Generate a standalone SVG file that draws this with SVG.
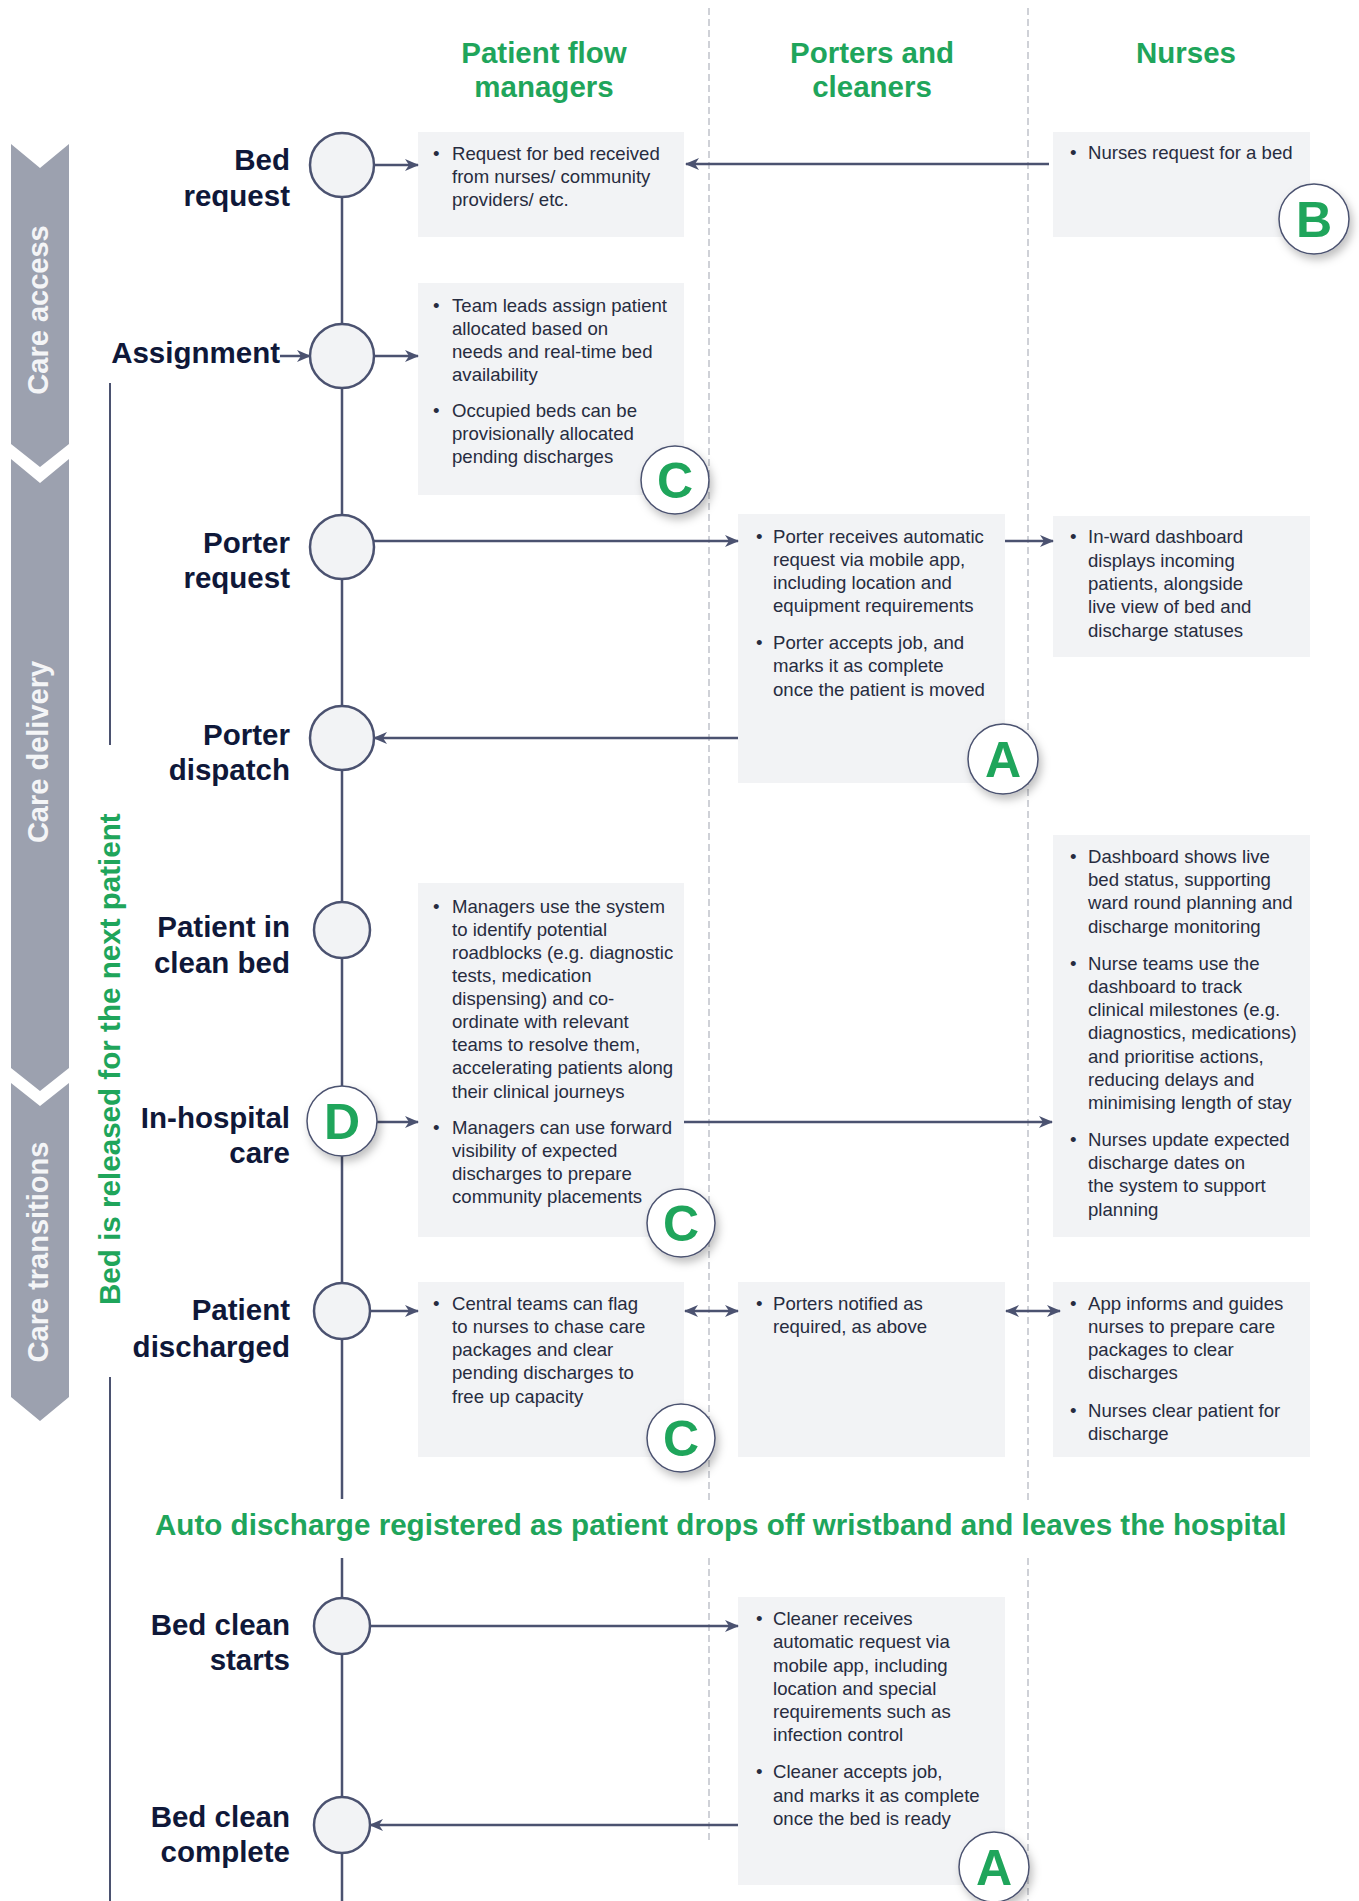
<svg xmlns="http://www.w3.org/2000/svg" width="1359" height="1901" viewBox="0 0 1359 1901">
  <defs>
    <style>
      .lane { stroke: #cfd1d7; stroke-width: 2; stroke-dasharray: 7 4; fill: none; }
      .head { font-family: "Liberation Sans", Arial, sans-serif; font-weight: bold; font-size: 29.5px; fill: #1fa55b; }
      .phase { fill: #9ca1af; }
      .phase-txt { font-family: "Liberation Sans", Arial, sans-serif; font-weight: bold; font-size: 29px; fill: #f4f5f7; text-anchor: middle; }
      .rail { stroke: #4b5270; stroke-width: 2.5; fill: none; }
      .guide { stroke: #4b5270; stroke-width: 2; fill: none; }
      .step { fill: #f2f3f5; stroke: #4b5270; stroke-width: 2.5; }
      .label { font-family: "Liberation Sans", Arial, sans-serif; font-weight: bold; font-size: 29.5px; fill: #0f1839; text-anchor: end; }
      .box { fill: #f2f3f5; }
      .body { font-family: "Liberation Sans", Arial, sans-serif; font-size: 18.6px; fill: #272c40; }
      .badge { fill: #ffffff; stroke: #4b5270; stroke-width: 1.5; filter: url(#soft); }
      .badge-txt { font-family: "Liberation Sans", Arial, sans-serif; font-weight: bold; font-size: 50px; fill: #1fa55b; text-anchor: middle; }
      .conn { stroke: #4b5270; stroke-width: 2.5; fill: none; }
      .green { font-family: "Liberation Sans", Arial, sans-serif; font-weight: bold; font-size: 29.6px; fill: #1fa55b; }
    </style>
    <marker id="arrow" viewBox="0 0 14 12" markerWidth="14" markerHeight="12" refX="13" refY="6" orient="auto-start-reverse" markerUnits="userSpaceOnUse">
      <path d="M0,0 L14,6 L0,12 L4,6 z" fill="#4b5270"/>
    </marker>
    <filter id="soft" x="-40%" y="-40%" width="190%" height="190%">
      <feDropShadow dx="3" dy="5" stdDeviation="4" flood-color="#000000" flood-opacity="0.25"/>
    </filter>
  </defs>

  <rect width="1359" height="1901" fill="#ffffff"/>

  <!-- swimlane separators -->
  <g id="lanes">
    <line class="lane" x1="709" y1="8" x2="709" y2="1500"/>
    <line class="lane" x1="709" y1="1558" x2="709" y2="1843"/>
    <line class="lane" x1="1028" y1="8" x2="1028" y2="1500"/>
    <line class="lane" x1="1028" y1="1558" x2="1028" y2="1901"/>
  </g>

  <!-- column headers -->
  <g id="headers">
    <text class="head" text-anchor="middle" x="544" y="63">Patient flow</text>
    <text class="head" text-anchor="middle" x="544" y="97">managers</text>
    <text class="head" text-anchor="middle" x="872" y="63">Porters and</text>
    <text class="head" text-anchor="middle" x="872" y="97">cleaners</text>
    <text class="head" text-anchor="middle" x="1186" y="63">Nurses</text>
  </g>

  <!-- phase chevrons -->
  <g id="phase-care-access">
    <polygon class="phase" points="11,144 40,168 69,144 69,444 40,467 11,444"/>
    <text class="phase-txt" transform="translate(48,310) rotate(-90)">Care access</text>
  </g>
  <g id="phase-care-delivery">
    <polygon class="phase" points="11,459 40,483 69,459 69,1068 40,1091 11,1068"/>
    <text class="phase-txt" transform="translate(48,752) rotate(-90)">Care delivery</text>
  </g>
  <g id="phase-care-transitions">
    <polygon class="phase" points="11,1083 40,1106 69,1083 69,1397 40,1421 11,1397"/>
    <text class="phase-txt" transform="translate(48,1252) rotate(-90)">Care transitions</text>
  </g>

  <!-- bed release bracket -->
  <g id="bed-release">
    <line class="guide" x1="110" y1="383" x2="110" y2="745"/>
    <line class="guide" x1="110" y1="1377" x2="110" y2="1901"/>
    <text class="green" transform="translate(120,1305) rotate(-90)">Bed is released for the next patient</text>
  </g>

  <!-- timeline rail -->
  <g id="rail">
    <line class="rail" x1="342" y1="165" x2="342" y2="1499"/>
    <line class="rail" x1="342" y1="1558" x2="342" y2="1901"/>
  </g>

  <!-- detail boxes -->
  <g id="box-bed-request">
    <rect class="box" x="418" y="132" width="266" height="105"/>
    <text class="body"><tspan x="433" y="160">•</tspan><tspan x="452" y="160">Request for bed received</tspan><tspan x="452" y="183">from nurses/ community</tspan><tspan x="452" y="206">providers/ etc.</tspan></text>
  </g>
  <g id="box-assignment">
    <rect class="box" x="418" y="283" width="266" height="212"/>
    <text class="body"><tspan x="433" y="312">•</tspan><tspan x="452" y="312">Team leads assign patient</tspan><tspan x="452" y="335">allocated based on</tspan><tspan x="452" y="358">needs and real-time bed</tspan><tspan x="452" y="381">availability</tspan><tspan x="433" y="417">•</tspan><tspan x="452" y="417">Occupied beds can be</tspan><tspan x="452" y="440">provisionally allocated</tspan><tspan x="452" y="463">pending discharges</tspan></text>
  </g>
  <g id="box-managers-care">
    <rect class="box" x="418" y="883" width="266" height="354"/>
    <text class="body"><tspan x="433" y="913">•</tspan><tspan x="452" y="913">Managers use the system</tspan><tspan x="452" y="936">to identify potential</tspan><tspan x="452" y="959">roadblocks (e.g. diagnostic</tspan><tspan x="452" y="982">tests, medication</tspan><tspan x="452" y="1005">dispensing) and co-</tspan><tspan x="452" y="1028">ordinate with relevant</tspan><tspan x="452" y="1051">teams to resolve them,</tspan><tspan x="452" y="1074">accelerating patients along</tspan><tspan x="452" y="1098">their clinical journeys</tspan><tspan x="433" y="1134">•</tspan><tspan x="452" y="1134">Managers can use forward</tspan><tspan x="452" y="1157">visibility of expected</tspan><tspan x="452" y="1180">discharges to prepare</tspan><tspan x="452" y="1203">community placements</tspan></text>
  </g>
  <g id="box-managers-discharge">
    <rect class="box" x="418" y="1282" width="266" height="175"/>
    <text class="body"><tspan x="433" y="1310">•</tspan><tspan x="452" y="1310">Central teams can flag</tspan><tspan x="452" y="1333">to nurses to chase care</tspan><tspan x="452" y="1356">packages and clear</tspan><tspan x="452" y="1379">pending discharges to</tspan><tspan x="452" y="1403">free up capacity</tspan></text>
  </g>
  <g id="box-porter-request">
    <rect class="box" x="738" y="514" width="267" height="269"/>
    <text class="body"><tspan x="756" y="543">•</tspan><tspan x="773" y="543">Porter receives automatic</tspan><tspan x="773" y="566">request via mobile app,</tspan><tspan x="773" y="589">including location and</tspan><tspan x="773" y="612">equipment requirements</tspan><tspan x="756" y="649">•</tspan><tspan x="773" y="649">Porter accepts job, and</tspan><tspan x="773" y="672">marks it as complete</tspan><tspan x="773" y="696">once the patient is moved</tspan></text>
  </g>
  <g id="box-porter-discharge">
    <rect class="box" x="738" y="1282" width="267" height="175"/>
    <text class="body"><tspan x="756" y="1310">•</tspan><tspan x="773" y="1310">Porters notified as</tspan><tspan x="773" y="1333">required, as above</tspan></text>
  </g>
  <g id="box-cleaner">
    <rect class="box" x="738" y="1597" width="267" height="288"/>
    <text class="body"><tspan x="756" y="1625">•</tspan><tspan x="773" y="1625">Cleaner receives</tspan><tspan x="773" y="1648">automatic request via</tspan><tspan x="773" y="1672">mobile app, including</tspan><tspan x="773" y="1695">location and special</tspan><tspan x="773" y="1718">requirements such as</tspan><tspan x="773" y="1741">infection control</tspan><tspan x="756" y="1778">•</tspan><tspan x="773" y="1778">Cleaner accepts job,</tspan><tspan x="773" y="1802">and marks it as complete</tspan><tspan x="773" y="1825">once the bed is ready</tspan></text>
  </g>
  <g id="box-nurse-request">
    <rect class="box" x="1053" y="132" width="257" height="105"/>
    <text class="body"><tspan x="1070" y="159">•</tspan><tspan x="1088" y="159">Nurses request for a bed</tspan></text>
  </g>
  <g id="box-nurse-dashboard">
    <rect class="box" x="1053" y="516" width="257" height="141"/>
    <text class="body"><tspan x="1070" y="543">•</tspan><tspan x="1088" y="543">In-ward dashboard</tspan><tspan x="1088" y="567">displays incoming</tspan><tspan x="1088" y="590">patients, alongside</tspan><tspan x="1088" y="613">live view of bed and</tspan><tspan x="1088" y="637">discharge statuses</tspan></text>
  </g>
  <g id="box-nurse-care">
    <rect class="box" x="1053" y="835" width="257" height="402"/>
    <text class="body"><tspan x="1070" y="863">•</tspan><tspan x="1088" y="863">Dashboard shows live</tspan><tspan x="1088" y="886">bed status, supporting</tspan><tspan x="1088" y="909">ward round planning and</tspan><tspan x="1088" y="933">discharge monitoring</tspan><tspan x="1070" y="970">•</tspan><tspan x="1088" y="970">Nurse teams use the</tspan><tspan x="1088" y="993">dashboard to track</tspan><tspan x="1088" y="1016">clinical milestones (e.g.</tspan><tspan x="1088" y="1039">diagnostics, medications)</tspan><tspan x="1088" y="1063">and prioritise actions,</tspan><tspan x="1088" y="1086">reducing delays and</tspan><tspan x="1088" y="1109">minimising length of stay</tspan><tspan x="1070" y="1146">•</tspan><tspan x="1088" y="1146">Nurses update expected</tspan><tspan x="1088" y="1169">discharge dates on</tspan><tspan x="1088" y="1192">the system to support</tspan><tspan x="1088" y="1216">planning</tspan></text>
  </g>
  <g id="box-nurse-discharge">
    <rect class="box" x="1053" y="1282" width="257" height="175"/>
    <text class="body"><tspan x="1070" y="1310">•</tspan><tspan x="1088" y="1310">App informs and guides</tspan><tspan x="1088" y="1333">nurses to prepare care</tspan><tspan x="1088" y="1356">packages to clear</tspan><tspan x="1088" y="1379">discharges</tspan><tspan x="1070" y="1417">•</tspan><tspan x="1088" y="1417">Nurses clear patient for</tspan><tspan x="1088" y="1440">discharge</tspan></text>
  </g>

  <!-- connectors -->
  <g id="connectors">
    <line class="conn" x1="374" y1="165" x2="418" y2="165" marker-end="url(#arrow)"/>
    <line class="conn" x1="1049" y1="164" x2="686" y2="164" marker-end="url(#arrow)"/>
    <line class="conn" x1="280" y1="356" x2="310" y2="356" marker-end="url(#arrow)"/>
    <line class="conn" x1="374" y1="356" x2="418" y2="356" marker-end="url(#arrow)"/>
    <line class="conn" x1="374" y1="541" x2="738" y2="541" marker-end="url(#arrow)"/>
    <line class="conn" x1="1005" y1="541" x2="1053" y2="541" marker-end="url(#arrow)"/>
    <line class="conn" x1="738" y1="738" x2="374" y2="738" marker-end="url(#arrow)"/>
    <line class="conn" x1="377" y1="1122" x2="418" y2="1122" marker-end="url(#arrow)"/>
    <line class="conn" x1="684" y1="1122" x2="1052" y2="1122" marker-end="url(#arrow)"/>
    <line class="conn" x1="370" y1="1311" x2="418" y2="1311" marker-end="url(#arrow)"/>
    <line class="conn" x1="685" y1="1311" x2="738" y2="1311" marker-start="url(#arrow)" marker-end="url(#arrow)"/>
    <line class="conn" x1="1006" y1="1311" x2="1060" y2="1311" marker-start="url(#arrow)" marker-end="url(#arrow)"/>
    <line class="conn" x1="370" y1="1626" x2="738" y2="1626" marker-end="url(#arrow)"/>
    <line class="conn" x1="738" y1="1825" x2="370" y2="1825" marker-end="url(#arrow)"/>
  </g>

  <!-- timeline steps -->
  <g id="step-bed-request">
    <circle class="step" cx="342" cy="165" r="32"/>
    <text class="label" x="290" y="170">Bed</text>
    <text class="label" x="290" y="206">request</text>
  </g>
  <g id="step-assignment">
    <circle class="step" cx="342" cy="356" r="32"/>
    <text class="label" x="280" y="363">Assignment</text>
  </g>
  <g id="step-porter-request">
    <circle class="step" cx="342" cy="547" r="32"/>
    <text class="label" x="290" y="553">Porter</text>
    <text class="label" x="290" y="588">request</text>
  </g>
  <g id="step-porter-dispatch">
    <circle class="step" cx="342" cy="738" r="32"/>
    <text class="label" x="290" y="745">Porter</text>
    <text class="label" x="290" y="780">dispatch</text>
  </g>
  <g id="step-clean-bed">
    <circle class="step" cx="342" cy="930" r="28"/>
    <text class="label" x="290" y="937">Patient in</text>
    <text class="label" x="290" y="973">clean bed</text>
  </g>
  <g id="step-in-hospital">
    <circle class="badge" cx="342" cy="1121" r="35"/>
    <text class="badge-txt" x="342" y="1139">D</text>
    <text class="label" x="290" y="1128">In-hospital</text>
    <text class="label" x="290" y="1163">care</text>
  </g>
  <g id="step-discharged">
    <circle class="step" cx="342" cy="1311" r="28"/>
    <text class="label" x="290" y="1320">Patient</text>
    <text class="label" x="290" y="1357">discharged</text>
  </g>
  <g id="step-clean-starts">
    <circle class="step" cx="342" cy="1626" r="28"/>
    <text class="label" x="290" y="1635">Bed clean</text>
    <text class="label" x="290" y="1670">starts</text>
  </g>
  <g id="step-clean-complete">
    <circle class="step" cx="342" cy="1825" r="28"/>
    <text class="label" x="290" y="1827">Bed clean</text>
    <text class="label" x="290" y="1862">complete</text>
  </g>

  <!-- auto discharge milestone -->
  <g id="auto-discharge">
    <text class="green" x="155" y="1535">Auto discharge registered as patient drops off wristband and leaves the hospital</text>
  </g>

  <!-- lettered badges -->
  <g id="badge-b">
    <circle class="badge" cx="1314" cy="219" r="35"/>
    <text class="badge-txt" x="1314" y="237">B</text>
  </g>
  <g id="badge-c1">
    <circle class="badge" cx="675" cy="480" r="34"/>
    <text class="badge-txt" x="675" y="498">C</text>
  </g>
  <g id="badge-a1">
    <circle class="badge" cx="1003" cy="759" r="35"/>
    <text class="badge-txt" x="1003" y="777">A</text>
  </g>
  <g id="badge-c2">
    <circle class="badge" cx="681" cy="1223" r="34"/>
    <text class="badge-txt" x="681" y="1241">C</text>
  </g>
  <g id="badge-c3">
    <circle class="badge" cx="681" cy="1438" r="34"/>
    <text class="badge-txt" x="681" y="1456">C</text>
  </g>
  <g id="badge-a2">
    <circle class="badge" cx="994" cy="1867" r="35"/>
    <text class="badge-txt" x="994" y="1885">A</text>
  </g>
</svg>
